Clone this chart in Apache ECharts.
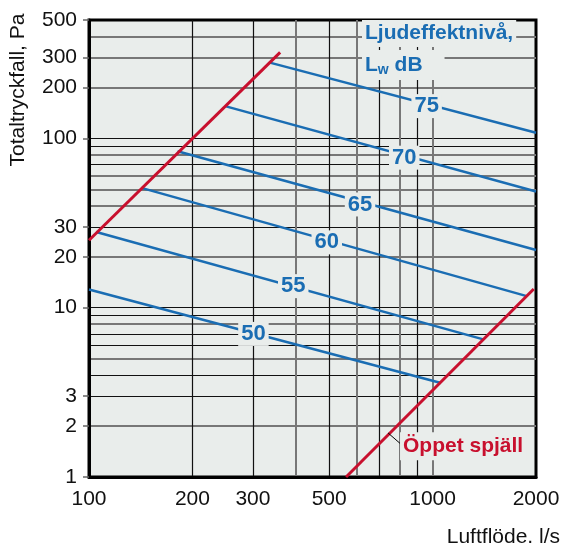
<!DOCTYPE html>
<html>
<head>
<meta charset="utf-8">
<script src="https://cdn.jsdelivr.net/npm/echarts@6/dist/echarts.min.js"></script>
<style>
  html, body { margin: 0; padding: 0; background: #fff; }
  #chart { width: 563px; height: 543px; }
</style>
</head>
<body>
<div id="chart"></div>
<script>
// axis ticks and grid lines (log scale)
const flowTicks = [100, 200, 300, 500, 1000, 2000]
const pressureTicks = [1, 2, 3, 10, 20, 30, 100, 200, 300, 500]
const flowGridBlack = [200, 300, 500, 700, 900]
const flowGridGrey = [400, 600, 800, 1000]
const pressGridBlack = [3, 4, 6, 7, 9, 10, 30, 70, 90, 100]
const pressGridGrey = [2, 5, 8, 20, 40, 50, 60, 80, 200, 300, 400]

// sound power level lines, [l/s, Pa]
const soundLevels = ['50', '55', '60', '65', '70', '75']
const lw50 = [[100, 12.8], [1058, 3.59]]
const lw55 = [[105, 28], [1405, 6.5]]
const lw60 = [[142, 51], [1880, 11.7]]
const lw65 = [[181, 84], [2000, 21.9]]
const lw70 = [[249, 155], [2000, 48.5]]
const lw75 = [[336, 280], [2000, 107.8]]
const levelLabelAt = [[301, 7.0], [393, 13.4], [492, 24.3], [615, 40.7], [827, 76.9], [961, 155]]

// open damper limits
const openDamperLow = [[100, 25], [360, 322]]
const openDamperHigh = [[560, 1], [1970, 12.9]]
const openDamperPointer = [[742, 1.82], [804, 1.58]]

const BG = '#e9edeb'
const BLUE = '#1a6db3'
const RED = '#c8102e'
const FONT = '"Liberation Sans", Arial, Helvetica, sans-serif'

const gridAxis = (type, values, color, width) => ({
    type: 'log',
    logBase: 10,
    min: type === 'x' ? 100 : 1,
    max: type === 'x' ? 2000 : 500,
    gridIndex: 0,
    axisLine: { show: false },
    axisLabel: { show: false },
    axisTick: { show: false, customValues: values },
    splitLine: { show: true, lineStyle: { color: color, width: width } }
})

const lines = [lw50, lw55, lw60, lw65, lw70, lw75]
let series = lines.map((d, i) => ({
    type: 'line',
    data: d,
    symbol: 'none',
    z: 3,
    lineStyle: { color: BLUE, width: 2.5 },
    markPoint: {
        symbol: 'rect',
        symbolSize: 0,
        data: [{ coord: levelLabelAt[i], value: soundLevels[i] }],
        label: {
            show: true,
            position: 'inside',
            formatter: soundLevels[i],
            color: BLUE,
            fontFamily: FONT,
            fontWeight: 'bold',
            fontSize: 22,
            lineHeight: 22,
            backgroundColor: BG,
            padding: [1, 3]
        }
    }
}))

series.push(
    {
        type: 'line',
        data: openDamperLow,
        symbol: 'none',
        z: 4,
        lineStyle: { color: RED, width: 3 }
    },
    {
        type: 'line',
        data: openDamperHigh,
        symbol: 'none',
        z: 4,
        lineStyle: { color: RED, width: 3 }
    },
    {
        type: 'line',
        data: openDamperPointer,
        symbol: 'none',
        z: 4,
        lineStyle: { color: '#000', width: 1 },
        markPoint: {
            symbol: 'rect',
            symbolSize: 0,
            data: [{ coord: openDamperPointer[1], value: 'Öppet spjäll' }],
            label: {
                show: true,
                position: 'right',
                distance: 0,
                offset: [0, 3],
                formatter: 'Öppet spjäll',
                color: RED,
                fontFamily: FONT,
                fontWeight: 'bold',
                fontSize: 21,
                lineHeight: 22,
                backgroundColor: BG,
                padding: [3, 3]
            }
        }
    }
)

const option = {
    animation: false,
    textStyle: { fontFamily: FONT },
    grid: {
        left: 89,
        right: 27,
        top: 20,
        bottom: 66,
        show: true,
        backgroundColor: BG,
        borderColor: '#000',
        borderWidth: 3
    },
    xAxis: [
        {
            type: 'log',
            logBase: 10,
            min: 100,
            max: 2000,
            axisLine: { show: true, lineStyle: { color: '#000', width: 3 } },
            axisTick: { show: false },
            splitLine: { show: false },
            axisLabel: {
                customValues: flowTicks,
                formatter: v => String(v),
                color: '#111',
                fontSize: 21,
                margin: 12,
                fontFamily: FONT
            }
        },
        gridAxis('x', flowGridBlack, '#111', 1.2),
        gridAxis('x', flowGridGrey, '#777', 2)
    ],
    yAxis: [
        {
            type: 'log',
            logBase: 10,
            min: 1,
            max: 500,
            axisLine: { show: true, lineStyle: { color: '#000', width: 3 } },
            axisTick: {
                show: true,
                customValues: pressureTicks,
                length: 6,
                lineStyle: { color: '#666', width: 1.5 }
            },
            splitLine: { show: false },
            axisLabel: {
                customValues: pressureTicks,
                formatter: v => String(v),
                color: '#111',
                fontSize: 21,
                margin: 12,
                fontFamily: FONT
            }
        },
        gridAxis('y', pressGridBlack, '#111', 1.2),
        gridAxis('y', pressGridGrey, '#777', 2)
    ],
    graphic: [
        {
            type: 'text',
            left: 362,
            top: 20,
            z: 100,
            style: {
                text: 'Ljudeffektnivå,',
                fill: BLUE,
                font: 'bold 21px ' + FONT,
                backgroundColor: BG,
                padding: [3, 3, 3, 3]
            }
        },
        {
            type: 'text',
            left: 362,
            top: 50,
            z: 100,
            style: {
                text: '{a|L}{b|w}{a| dB}',
                backgroundColor: BG,
                padding: [3, 22, 3, 3],
                rich: {
                    a: { fill: BLUE, font: 'bold 21px ' + FONT, lineHeight: 24 },
                    b: { fill: BLUE, font: 'bold 14px ' + FONT, lineHeight: 24, verticalAlign: 'bottom', padding: [6, 0, 0, 0] }
                }
            }
        },
        {
            type: 'text',
            right: 3,
            top: 527,
            style: {
                text: 'Luftflöde, l/s',
                fill: '#111',
                font: '21px ' + FONT
            }
        },
        {
            type: 'text',
            x: 18,
            y: 90,
            rotation: Math.PI / 2,
            style: {
                text: 'Totaltryckfall, Pa',
                fill: '#111',
                font: '21px ' + FONT,
                align: 'center',
                verticalAlign: 'middle'
            }
        }
    ],
    series: series
}

const chart = echarts.init(document.getElementById('chart'))
chart.setOption(option)
</script>
</body>
</html>
